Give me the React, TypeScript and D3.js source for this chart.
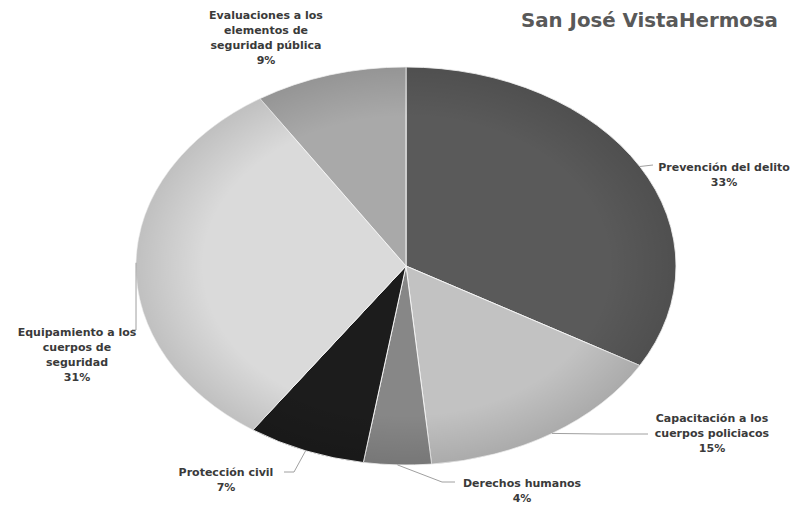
import React from "react";
import * as d3 from "d3";

const categories = [
  "Prevención del delito",
  "Capacitación a los cuerpos policiacos",
  "Derechos humanos",
  "Protección civil",
  "Equipamiento a los cuerpos de seguridad",
  "Evaluaciones a los elementos de seguridad pública",
];
const values = [33, 15, 4, 7, 31, 9];
const percentLabels = ["33%", "15%", "4%", "7%", "31%", "9%"];
const colors = ["#5a5a5a", "#c2c2c2", "#878787", "#1c1c1c", "#dadada", "#a9a9a9"];
const title = "San José VistaHermosa";

// label layout: wrapped lines, text center x, first baseline y, leader path end points
const labelLayout = [
  { lines: ["Prevención del delito"], x: 724, y: 171, leader: [[653, 165]] },
  { lines: ["Capacitación a los", "cuerpos policiacos"], x: 712, y: 422, leader: [[600, 434], [648, 434]] },
  { lines: ["Derechos humanos"], x: 522, y: 487, leader: [[442, 482], [455, 482]] },
  { lines: ["Protección civil"], x: 226, y: 476, leader: [[294, 472], [284, 472]] },
  { lines: ["Equipamiento a los", "cuerpos de", "seguridad"], x: 77, y: 336, leader: [[136, 330], [132, 330]] },
  { lines: ["Evaluaciones a los", "elementos de", "seguridad pública"], x: 266, y: 19, leader: null },
];

const W = 801, H = 506;
const cx = 406, cy = 266, rx = 270, ry = 199;

export default function App() {
  const pie = d3.pie<number>().sort(null).startAngle(0).endAngle(2 * Math.PI);
  const arcs = pie(values);
  const arcGen = d3.arc<d3.PieArcDatum<number>>().innerRadius(0).outerRadius(ry);
  const sx = rx / ry;
  const edge = (a: number) => [cx + rx * Math.sin(a), cy - ry * Math.cos(a)];
  const lh = 15;
  return (
    <svg width={W} height={H} style={{ position: "absolute", left: 0, top: 0, background: "#fff" }}>
      <defs>
        <radialGradient id="shade" cx="0.5" cy="0.5" r="0.5">
          <stop offset="0.75" stopColor="#000" stopOpacity="0" />
          <stop offset="1" stopColor="#000" stopOpacity="0.12" />
        </radialGradient>
      </defs>
      <rect width={W} height={H} fill="#fff" />
      <g transform={`translate(${cx},${cy}) scale(${sx},1)`}>
        {arcs.map((a, i) => (
          <path key={i} d={arcGen(a) || ""} fill={colors[i]} stroke="#f4f4f4" strokeWidth={1} vectorEffect="non-scaling-stroke" />
        ))}
      </g>
      <ellipse cx={cx} cy={cy} rx={rx} ry={ry} fill="url(#shade)" />
      {arcs.map((a, i) => {
        const L = labelLayout[i];
        if (!L.leader) return null;
        const mid = (a.startAngle + a.endAngle) / 2;
        const p0 = edge(mid);
        const pts = [p0, ...L.leader];
        return (
          <path key={"l" + i} d={d3.line()(pts as [number, number][]) || ""} fill="none" stroke="#a0a0a0" strokeWidth={1} />
        );
      })}
      {labelLayout.map((L, i) => (
        <text key={"t" + i} x={L.x} y={L.y} textAnchor="middle" fontFamily="DejaVu Sans" fontWeight="bold" fontSize={11} fill="#3a3a3a">
          {[...L.lines, percentLabels[i]].map((s, j) => (
            <tspan key={j} x={L.x} dy={j === 0 ? 0 : lh}>{s}</tspan>
          ))}
        </text>
      ))}
      <text x={521} y={27} fontFamily="DejaVu Sans" fontWeight="bold" fontSize={19.8} fill="#595959">{title}</text>
    </svg>
  );
}
